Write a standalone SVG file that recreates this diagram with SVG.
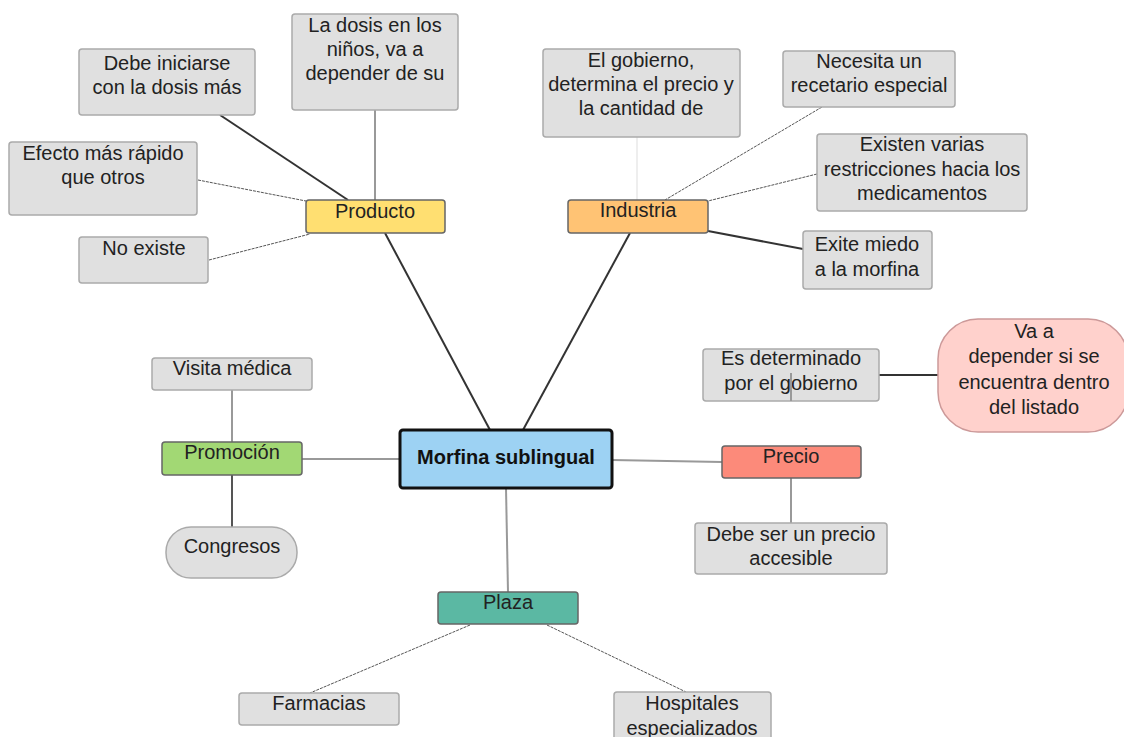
<svg xmlns="http://www.w3.org/2000/svg" width="1124" height="737" viewBox="0 0 1124 737">
<style>
text{font-family:"Liberation Sans",Arial,sans-serif;font-size:20px;fill:#222;text-anchor:middle}
.leaf{fill:#e0e0e0;stroke:#aaa;stroke-width:1.5}
.main{stroke:#666;stroke-width:1.5}
.dk{stroke:#333;stroke-width:2;fill:none}
.gr{stroke:#999;stroke-width:2;fill:none}
.th{stroke:#555;stroke-width:1;fill:none;stroke-dasharray:3 1}
.lt{stroke:#ddd;stroke-width:1;fill:none}
</style>
<rect width="1124" height="737" fill="#fff"/>
<g id="connectors">
<line class="dk" x1="490" y1="430" x2="385" y2="233"/>
<line class="dk" x1="523" y1="430" x2="630" y2="233"/>
<line class="gr" x1="400" y1="459" x2="302" y2="459"/>
<line class="gr" x1="612" y1="460" x2="722" y2="462"/>
<line class="gr" x1="506" y1="488" x2="508" y2="592"/>
<line class="dk" x1="220" y1="115" x2="348" y2="200"/>
<line class="gr" x1="375" y1="110" x2="375" y2="200"/>
<line class="th" x1="198" y1="180" x2="306" y2="201"/>
<line class="th" x1="209" y1="260" x2="310" y2="234"/>
<line class="lt" x1="637" y1="137" x2="637" y2="200"/>
<line class="th" x1="822" y1="107" x2="665" y2="200"/>
<line class="th" x1="817" y1="174" x2="708" y2="201"/>
<line class="dk" x1="708" y1="231" x2="803" y2="249"/>
<line class="gr" x1="232" y1="390" x2="232" y2="442"/>
<line class="dk" x1="232" y1="475" x2="232" y2="527" style="stroke:#555"/>
<line class="dk" x1="879" y1="375" x2="938" y2="375"/>
<line class="gr" x1="791" y1="478" x2="791" y2="523"/>
<line class="th" x1="470" y1="625" x2="310" y2="693"/>
<line class="th" x1="547" y1="625" x2="686" y2="692"/>
</g>
<g id="n-morfina"><rect x="400" y="430" width="212" height="58" rx="3" fill="#9dd2f3" stroke="#111" stroke-width="3"/><text x="506" y="464" style="font-weight:bold;fill:#111">Morfina sublingual</text></g>
<g id="n-producto"><rect class="main" x="306" y="200" width="139" height="33" rx="3" fill="#ffdf71"/><text x="375" y="218">Producto</text></g>
<g id="n-industria"><rect class="main" x="568" y="200" width="140" height="33" rx="3" fill="#ffc374"/><text x="638" y="217">Industria</text></g>
<g id="n-promocion"><rect class="main" x="162" y="442" width="140" height="33" rx="3" fill="#a2d874"/><text x="232" y="459">Promoción</text></g>
<g id="n-precio"><rect class="main" x="722" y="446" width="139" height="32" rx="3" fill="#fc8a7a"/><text x="791" y="463">Precio</text></g>
<g id="n-plaza"><rect class="main" x="438" y="592" width="140" height="32" rx="3" fill="#5bb8a3"/><text x="508" y="609">Plaza</text></g>
<g id="n-debe-iniciarse"><rect class="leaf" x="79" y="49" width="176" height="66" rx="3"/><text x="167" y="70">Debe iniciarse</text><text x="167" y="94">con la dosis más</text></g>
<g id="n-dosis-ninos"><rect class="leaf" x="292" y="14" width="166" height="96" rx="3"/><text x="375" y="32">La dosis en los</text><text x="375" y="56">niños, va a</text><text x="375" y="80">depender de su</text></g>
<g id="n-efecto"><rect class="leaf" x="9" y="142" width="188" height="73" rx="3"/><text x="103" y="160">Efecto más rápido</text><text x="103" y="184">que otros</text></g>
<g id="n-no-existe"><rect class="leaf" x="79" y="237" width="129" height="46" rx="3"/><text x="144" y="255">No existe</text></g>
<g id="n-gobierno"><rect class="leaf" x="543" y="49" width="197" height="88" rx="3"/><text x="641" y="67">El gobierno,</text><text x="641" y="91">determina el precio y</text><text x="641" y="115">la cantidad de</text></g>
<g id="n-necesita"><rect class="leaf" x="783" y="51" width="172" height="56" rx="3"/><text x="869" y="68">Necesita un</text><text x="869" y="92">recetario especial</text></g>
<g id="n-existen"><rect class="leaf" x="817" y="134" width="210" height="77" rx="3"/><text x="922" y="151">Existen varias</text><text x="922" y="176">restricciones hacia los</text><text x="922" y="200">medicamentos</text></g>
<g id="n-miedo"><rect class="leaf" x="803" y="231" width="129" height="58" rx="3"/><text x="867" y="251">Exite miedo</text><text x="867" y="276">a la morfina</text></g>
<g id="n-visita"><rect class="leaf" x="152" y="358" width="160" height="32" rx="3"/><text x="232" y="375">Visita médica</text></g>
<g id="n-congresos"><rect class="leaf" x="166" y="527" width="131" height="51" rx="25"/><text x="232" y="553">Congresos</text></g>
<g id="n-determinado"><rect class="leaf" x="703" y="349" width="176" height="52" rx="3"/><text x="791" y="365">Es determinado</text><text x="791" y="390">por el gobierno</text></g>
<g id="n-listado"><rect x="938" y="319" width="190" height="113" rx="40" fill="#ffd1cc" stroke="#c99" stroke-width="1.5"/><text x="1034" y="338">Va a</text><text x="1034" y="363">depender si se</text><text x="1034" y="389">encuentra dentro</text><text x="1034" y="414">del listado</text></g>
<g id="n-accesible"><rect class="leaf" x="695" y="523" width="192" height="51" rx="3"/><text x="791" y="541">Debe ser un precio</text><text x="791" y="565">accesible</text></g>
<g id="n-farmacias"><rect class="leaf" x="239" y="693" width="160" height="32" rx="3"/><text x="319" y="710">Farmacias</text></g>
<g id="n-hospitales"><rect class="leaf" x="614" y="692" width="157" height="50" rx="3"/><text x="692" y="710">Hospitales</text><text x="692" y="735">especializados</text></g>
<g id="connectors-over"><line class="gr" x1="791" y1="373" x2="791" y2="401"/></g>
</svg>
